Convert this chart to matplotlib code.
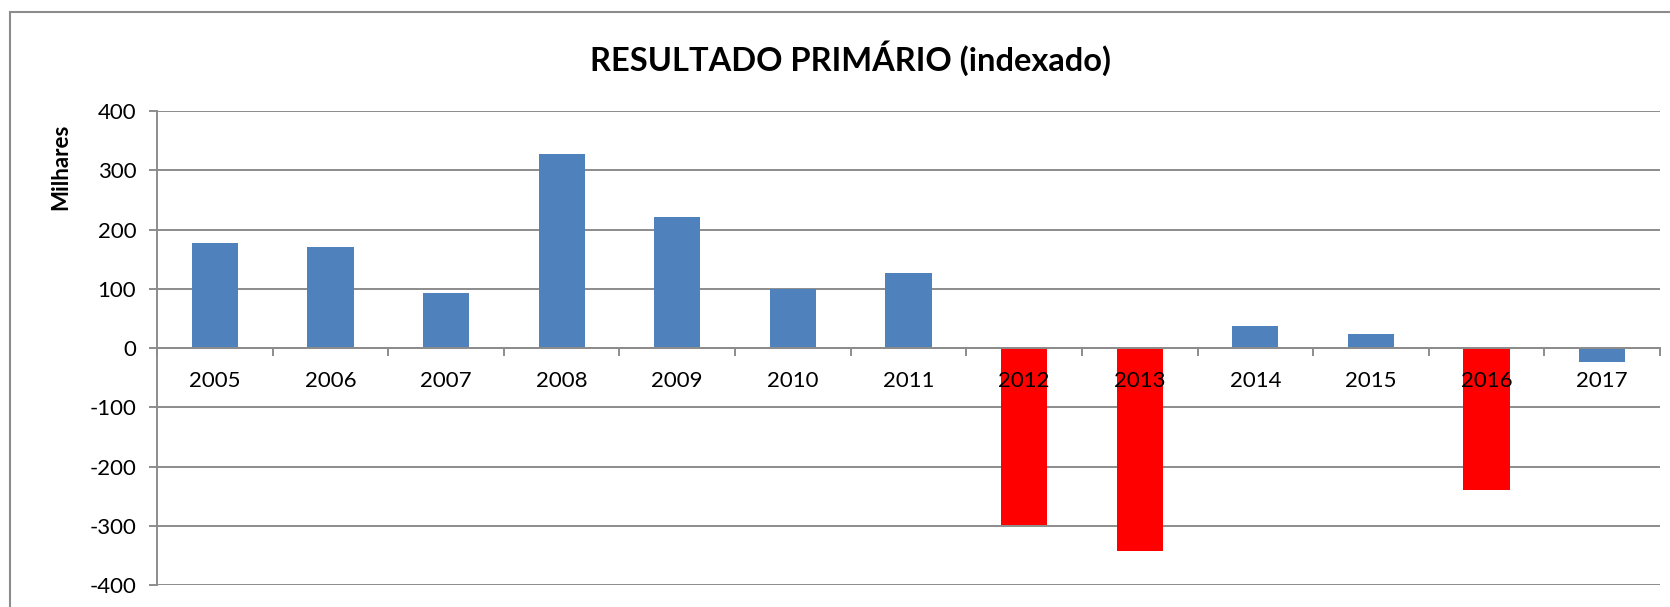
import matplotlib.pyplot as plt
from matplotlib.patches import Rectangle

# dados
anos = ["2005", "2006", "2007", "2008", "2009", "2010", "2011",
        "2012", "2013", "2014", "2015", "2016", "2017"]
valores = [178, 171, 93, 327, 222, 99, 126, -299, -342, 38, 24, -239, -24]
destaque = ["2012", "2013", "2016"]

cor_azul = "#4F81BD"
cor_verm = "#FF0000"
cor_grade = "#8C8C8C"

plt.rcParams["font.family"] = ["Lato", "DejaVu Sans"]
plt.rcParams["axes.unicode_minus"] = False

fig = plt.figure(figsize=(16.7, 6.07), dpi=100)
ax = fig.add_axes([0.094, 0.0362, 0.900, 0.7808])

x = list(range(len(anos)))
cores = [cor_verm if a in destaque else cor_azul for a in anos]
ax.bar(x, valores, width=0.4, color=cores, zorder=2)

ax.set_xlim(-0.5, len(anos) - 0.5)
ax.set_ylim(-400, 400)
ax.set_yticks(range(-400, 401, 100))
ax.tick_params(axis="y", labelsize=16, length=6, width=1.4, color=cor_grade, pad=9)
ax.yaxis.grid(True, color=cor_grade, linewidth=1.4, zorder=0)
ax.set_axisbelow(True)

# eixo x passando pelo zero
ax.spines["bottom"].set_position(("data", 0))
ax.spines["bottom"].set_color(cor_grade)
ax.spines["bottom"].set_linewidth(1.4)
ax.spines["bottom"].set_zorder(3)
ax.spines["left"].set_color(cor_grade)
ax.spines["left"].set_linewidth(1.4)
ax.spines["top"].set_visible(False)
ax.spines["right"].set_visible(False)
ax.set_xticks([i - 0.5 for i in range(len(anos) + 1)])
ax.set_xticklabels([])
ax.tick_params(axis="x", length=6, width=1.4, color=cor_grade, direction="out")

for i, a in enumerate(anos):
    ax.annotate(a, xy=(i, 0), xytext=(0, -24), textcoords="offset points",
                ha="center", va="center", fontsize=16, zorder=5)

fig.text(0.509, 0.904, "RESULTADO PRIMÁRIO (indexado)", ha="center", va="center",
         fontsize=23.5, fontweight="bold")
fig.text(0.0365, 0.725, "Milhares", rotation=90, ha="center", va="center",
         fontsize=16, fontweight="bold")

# moldura do gráfico
fig.patches.append(Rectangle((10 / 1670, -0.2), 1.2, 1.2 - 12 / 607,
                             transform=fig.transFigure, fill=False,
                             edgecolor=cor_grade, linewidth=1.5))

plt.savefig("out.png")
plt.close()
